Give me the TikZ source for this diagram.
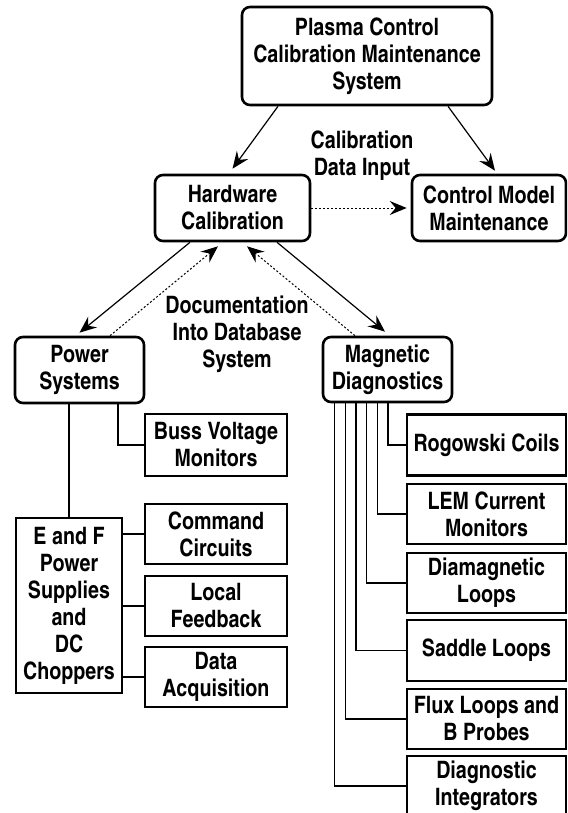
\documentclass[tikz,border=0pt]{standalone}
\usepackage{fontspec}
\setmainfont{texgyreheroscn}[Extension=.otf, UprightFont=*-regular, BoldFont=*-bold]
\usetikzlibrary{arrows.meta}

\tikzstyle{block} = [draw, line width=2.6pt, rounded corners=8pt, align=center, inner sep=0pt]
\tikzstyle{part} = [draw, line width=2.6pt, align=center, inner sep=0pt]
\tikzstyle{label} = [align=center, inner sep=0pt]
\tikzstyle{flow} = [draw, line width=1.2pt, -{Stealth[length=17pt,width=14pt,inset=6pt]}]
\tikzstyle{data flow} = [draw, line width=1pt, dash pattern=on 2pt off 2pt, -{Stealth[length=17pt,width=14pt,inset=6pt]}]
\tikzstyle{link} = [draw, line width=1.3pt]

\begin{document}
\begin{tikzpicture}[x=1pt,y=-1pt,font=\fontsize{24}{27}\selectfont\bfseries]
	\clip (0,0) rectangle (567,813);
	% top level and the two branches
	\node[block, minimum width=250pt, minimum height=98pt] (top) at (367,56) {Plasma Control\\Calibration Maintenance\\System};
	\node[block, minimum width=155pt, minimum height=66pt] (hw) at (232.5,208) {Hardware\\Calibration};
	\node[block, minimum width=154pt, minimum height=66pt] (cm) at (489,208) {Control Model\\Maintenance};
	\node[block, minimum width=129pt, minimum height=66pt] (ps) at (79.5,370) {Power\\Systems};
	\node[block, minimum width=129pt, minimum height=65pt] (md) at (387.5,369.5) {Magnetic\\Diagnostics};

	\node[label] (cdi) at (362,156) {Calibration\\Data Input};
	\node[label] (doc) at (237,334) {Documentation\\Into Database\\System};

	% power systems parts
	\node[part, minimum width=142pt, minimum height=62pt] (buss) at (216,445) {Buss Voltage\\Monitors};
	\node[part, minimum width=106pt, minimum height=175pt] (ef) at (69,605.5) {E and F\\Power\\Supplies\\and\\DC\\Choppers};
	\node[part, minimum width=142pt, minimum height=60pt] (cmd) at (216,534) {Command\\Circuits};
	\node[part, minimum width=142pt, minimum height=60pt] (lfb) at (216,606) {Local\\Feedback};
	\node[part, minimum width=142pt, minimum height=60pt] (daq) at (216,677) {Data\\Acquisition};

	% magnetic diagnostics parts
	\node[part, minimum width=159pt, minimum height=61pt] (rog) at (486.5,445) {Rogowski Coils};
	\node[part, minimum width=159pt, minimum height=60pt] (lem) at (486.5,514) {LEM Current\\Monitors};
	\node[part, minimum width=159pt, minimum height=60pt] (dia) at (486.5,583) {Diamagnetic\\Loops};
	\node[part, minimum width=159pt, minimum height=61pt] (sad) at (486.5,650.5) {Saddle Loops};
	\node[part, minimum width=159pt, minimum height=60pt] (flux) at (486.5,719) {Flux Loops and\\B Probes};
	\node[part, minimum width=159pt, minimum height=60pt] (dint) at (486.5,786) {Diagnostic\\Integrators};

	% arrows between the top boxes
	\path[flow] ([xshift=-89]top.south) to ([yshift=5]hw.north);
	\path[flow] ([xshift=81]top.south) to ([xshift=6,yshift=3]cm.north);
	\path[data flow] (hw.east) to ([xshift=-4]cm.west);
	\path[flow] ([xshift=-42.5]hw.south) to ([yshift=3]ps.north);
	\path[data flow] ([xshift=30.5]ps.north) to ([xshift=-14.5,yshift=-4]hw.south);
	\path[flow] ([xshift=44.5]hw.south) to ([xshift=-2.5,yshift=4]md.north);
	\path[data flow] ([xshift=-32.5]md.north) to ([xshift=14.5,yshift=-4]hw.south);

	% tree lines
	\draw[link] (ef.north |- ps.south) -- (ef.north);
	\draw[link] ([xshift=38.5]ps.south) |- (buss.west);
	\foreach \dest in {cmd, lfb, daq}
		\draw[link] (\dest.west -| ef.east) -- (\dest.west);
	\foreach \dest/\dx in {rog/0.5, lem/-10.2, dia/-20.9, sad/-31.6, flux/-42.3, dint/-53}
		\draw[link] ([xshift=\dx]md.south) |- (\dest.west);
\end{tikzpicture}
\end{document}
